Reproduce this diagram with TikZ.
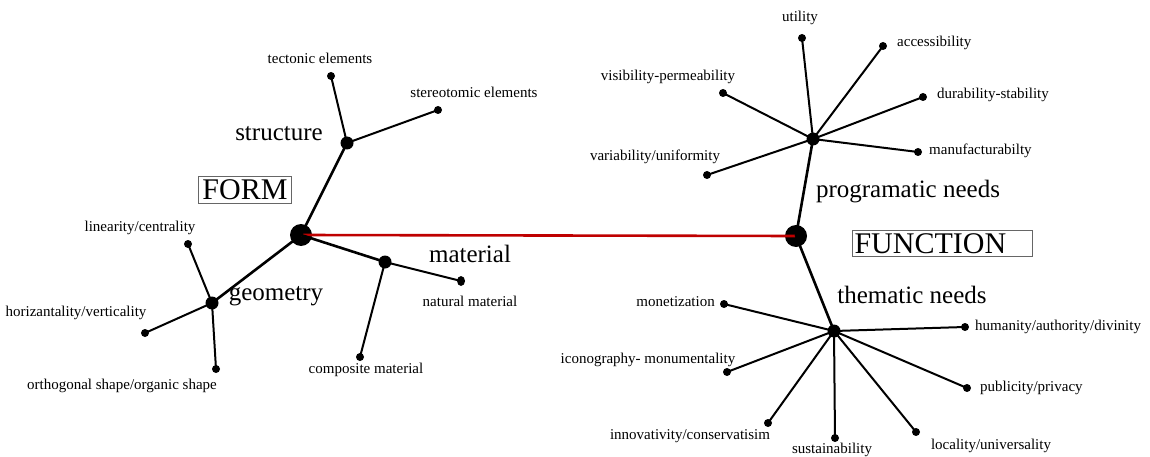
\documentclass[tikz,border=0pt]{standalone}
\usepackage{fontspec}
\setmainfont{Liberation Serif}
\usetikzlibrary{shapes.geometric}
\begin{document}
\begin{tikzpicture}[x=1pt,y=-1pt,
  hub/.style={circle,fill=black,inner sep=0pt,minimum size=22pt},
  sub/.style={circle,fill=black,inner sep=0pt,minimum size=13pt},
  leaf/.style={circle,fill=black,inner sep=0pt,minimum size=8pt},
  lbl/.style={font=\fontsize{15}{17}\selectfont,inner sep=0pt},
  big/.style={font=\fontsize{25}{28}\selectfont,inner sep=0pt},
  title/.style={draw=black!60,line width=1pt,font=\fontsize{30}{32}\selectfont,inner xsep=4pt,inner ysep=2pt,text height=21pt,text depth=1pt},
  main/.style={line width=2.6pt},
  twig/.style={line width=2pt},
]
\useasboundingbox (0,0) rectangle (1150,457);
% FORM side
\node[hub] (F) at (301,235) {};
\node[sub] (S) at (347,143) {};
\node[leaf] (T1) at (331,76) {};
\node[leaf] (T2) at (438,110) {};
\node[sub] (G) at (212,303) {};
\node[leaf] (L1) at (188,244) {};
\node[leaf] (L2) at (145,333) {};
\node[leaf] (L3) at (216,369) {};
\node[sub] (M) at (385,262) {};
\node[ellipse,fill=black,inner sep=0pt,minimum width=8pt,minimum height=10pt] (N1) at (461,281) {};
\node[leaf] (N2) at (360,357) {};
% FUNCTION side
\node[hub] (Fn) at (796,236) {};
\node[sub] (P) at (813,139) {};
\node[leaf] (P1) at (802,38) {};
\node[leaf] (P2) at (883,46) {};
\node[leaf] (P3) at (723,93) {};
\node[leaf] (P4) at (923,97) {};
\node[leaf] (P5) at (918,152) {};
\node[leaf] (P6) at (707,175) {};
\node[sub] (Th) at (834,331) {};
\node[leaf] (Q1) at (724,304) {};
\node[leaf] (Q2) at (965,327) {};
\node[leaf] (Q3) at (727,372) {};
\node[leaf] (Q4) at (967,388) {};
\node[leaf] (Q5) at (768,423) {};
\node[leaf] (Q6) at (835,438) {};
\node[leaf] (Q7) at (916,432) {};
% connectors
\draw[line width=2.6pt,red!75!black] (F.center) -- (Fn.center);
\draw[main] (F.center) -- (S.center);
\draw[main] (F.center) -- (G.center);
\draw[main] (F.center) -- (M.center);
\draw[twig] (S.center) -- (T1.center);
\draw[twig] (S.center) -- (T2.center);
\draw[twig] (G.center) -- (L1.center);
\draw[twig] (G.center) -- (L2.center);
\draw[twig] (G.center) -- (L3.center);
\draw[twig] (M.center) -- (N1.center);
\draw[twig] (M.center) -- (N2.center);
\draw[main] (Fn.center) -- (P.center);
\draw[main] (Fn.center) -- (Th.center);
\foreach \n in {P1,P2,P3,P4,P5,P6} \draw[twig] (P.center) -- (\n.center);
\foreach \n in {Q1,Q2,Q3,Q4,Q5,Q6,Q7} \draw[twig] (Th.center) -- (\n.center);
% labels
\node[lbl] (lT1) at (320,58) {tectonic elements};
\node[lbl] (lT2) at (474,92) {stereotomic elements};
\node[big] (lS) at (279,134) {structure};
\node[title] (form) at (245,190) {FORM};
\node[lbl] (lL1) at (140,228) {linearity/centrality};
\node[lbl] (lL2) at (76,313) {horizantality/verticality};
\node[lbl] (lL3) at (122,386) {orthogonal shape/organic shape};
\node[big] (lG) at (276,296) {geometry};
\node[big] (lM) at (470,254) {material};
\node[lbl] (lN1) at (470,301) {natural material};
\node[lbl] (lN2) at (366,370) {composite material};
\node[lbl] (lP1) at (800,18) {utility};
\node[lbl,anchor=west] (lP2) at (897,43) {accessibility};
\node[lbl] (lP3) at (668,77) {visibility-permeability};
\node[lbl,anchor=west] (lP4) at (937,95) {durability-stability};
\node[lbl,anchor=west] (lP5) at (929,151) {manufacturabilty};
\node[lbl] (lP6) at (655,157) {variability/uniformity};
\node[big] (lP) at (908,192) {programatic needs};
\node[title,anchor=west,inner xsep=2pt,text width=176pt,align=left] (func) at (852,243) {FUNCTION};
\node[big] (lTh) at (912,295) {thematic needs};
\node[lbl,anchor=east] (lQ1) at (715,302) {monetization};
\node[lbl,anchor=west] (lQ2) at (975,327) {humanity/authority/divinity};
\node[lbl] (lQ3) at (648,360) {iconography- monumentality};
\node[lbl,anchor=west] (lQ4) at (980,388) {publicity/privacy};
\node[lbl] (lQ5) at (690,436) {innovativity/conservatisim};
\node[lbl] (lQ6) at (832,450) {sustainability};
\node[lbl] (lQ7) at (991,446) {locality/universality};
\end{tikzpicture}
\end{document}
